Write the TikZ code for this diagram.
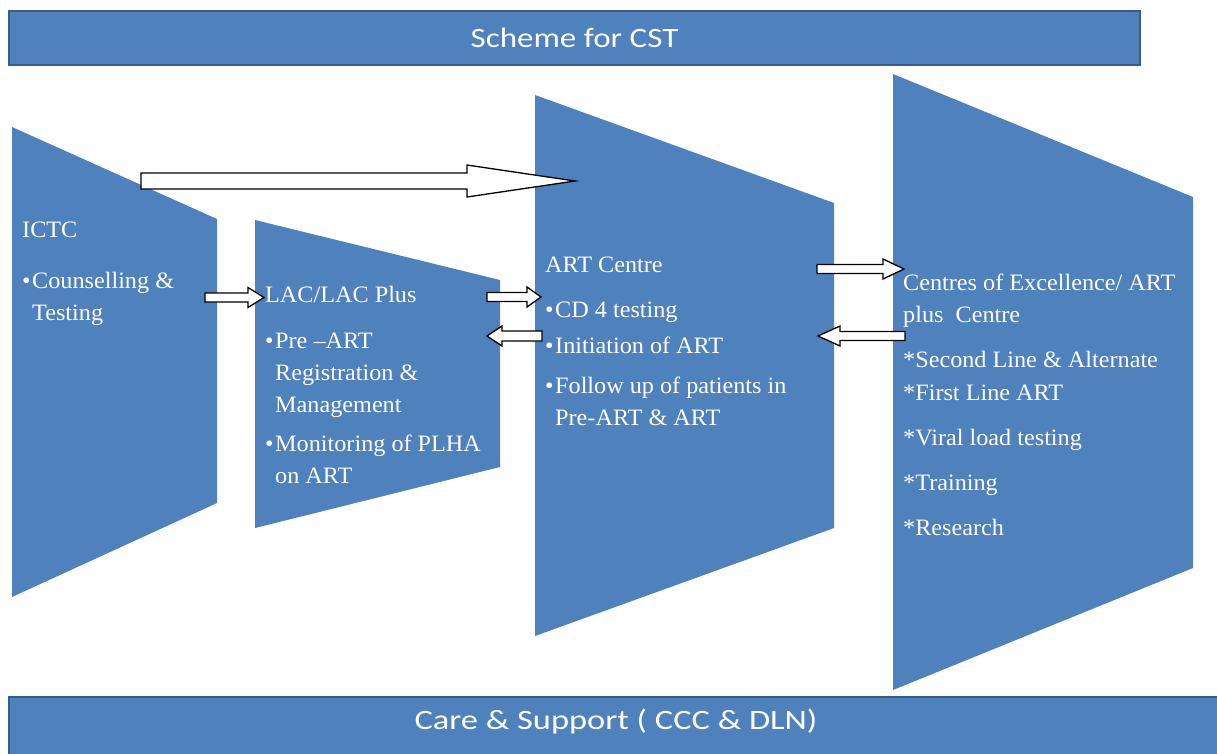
\documentclass[tikz,border=0pt]{standalone}
\usepackage{fontspec}
\setmainfont[FakeStretch=1.03]{Liberation Serif}
\newfontfamily\barfont[FakeStretch=1.18]{Carlito}
\newfontfamily\carefont[FakeStretch=1.23]{Carlito}
\usepackage{tikz}
\usetikzlibrary{calc,positioning}

\definecolor{stageblue}{HTML}{4F81BD}
\definecolor{stageedge}{HTML}{385D8A}
% block arrow: from, to, half shaft, half head, head length
\newcommand{\blockarrow}[5]{%
  \coordinate (hb) at ($(#2)!#5pt!(#1)$);
  \draw[arrowbox] ($(#1)+(0,#3)$) -- ($(hb)+(0,#3)$) -- ($(hb)+(0,#4)$) -- (#2)
    -- ($(hb)+(0,-#4)$) -- ($(hb)+(0,-#3)$) -- ($(#1)+(0,-#3)$) -- cycle;}
\newcommand{\bul}{\makebox[10pt][l]{\textbullet}}
\newcommand{\ind}{\hspace*{10pt}}

\begin{document}
\begin{tikzpicture}[x=1pt,y=-1pt,
  stage/.style={fill=stageblue},
  bar/.style={fill=stageblue,draw=stageedge,line width=2pt},
  bartext/.style={text=white,inner sep=0pt,font=\barfont\fontsize{28}{30}\selectfont},
  stagetext/.style={anchor=base west,align=left,inner sep=0pt,text=white,font=\fontsize{23.5}{32}\selectfont},
  arrowbox/.style={draw=black,fill=white,line width=1.3pt,line join=miter}]
\useasboundingbox (0,0) rectangle (1217,753);

% bars
\draw[bar] (9,11) rectangle (1140,65);
\node[bartext] (title) at (574.5,38) {Scheme for CST};
\draw[bar] (9,697) rectangle (1240,780);
\node[bartext,font=\carefont\fontsize{28}{30}\selectfont] (care) at (616,722) {Care \& Support ( CCC \& DLN)};

% stages (text anchored at the baseline of the last line)
\fill[stage] (12,127) -- (217,219) -- (217,503) -- (12,597) -- cycle;
\fill[stage] (255,220) -- (500,280) -- (500,467) -- (255,528) -- cycle;
\fill[stage] (535,95) -- (834,203) -- (834,528) -- (535,636) -- cycle;
\fill[stage] (893,74) -- (1193,197) -- (1193,568) -- (893,690) -- cycle;

\node[stagetext] (ictc) at (22,320) {ICTC\\[19pt]
  \bul Counselling \&\\ \ind Testing};
\node[stagetext] (lac) at (265,483) {LAC/LAC Plus\\[14pt]
  \bul Pre --ART\\ \ind Registration \&\\ \ind Management\\[7pt]
  \bul Monitoring of PLHA\\ \ind on ART};
\node[stagetext] (art) at (545,425) {ART Centre\\[13pt]
  \bul CD 4 testing\\[4pt]
  \bul Initiation of ART\\[8pt]
  \bul Follow up of patients in\\ \ind Pre-ART \& ART};
\node[stagetext] (coe) at (903,535) {Centres of Excellence/ ART\\
  plus\ \ Centre\\[13pt]
  *Second Line \& Alternate\\[1pt]
  *First Line ART\\[13pt]
  *Viral load testing\\[13pt]
  *Training\\[13pt]
  *Research};

% arrows
\coordinate (bigs) at (141,181);   \coordinate (bige) at (575,181);
\coordinate (ictcout) at (205,297.5); \coordinate (lacin) at (264,297.5);
\coordinate (lacout) at (487,297);  \coordinate (artin) at (541,297);
\coordinate (artback) at (542,336); \coordinate (lacback) at (487,336);
\coordinate (artout) at (817,269);  \coordinate (coein) at (904,269);
\coordinate (coeback) at (905,336); \coordinate (artret) at (818,336);
\blockarrow{bigs}{bige}{8}{16}{108}
\blockarrow{ictcout}{lacin}{4.5}{10}{16}
\blockarrow{lacout}{artin}{4.5}{10}{14}
\blockarrow{artback}{lacback}{5}{10}{15}
\blockarrow{artout}{coein}{4.5}{10}{21}
\blockarrow{coeback}{artret}{4.5}{10}{22}
\end{tikzpicture}
\end{document}
